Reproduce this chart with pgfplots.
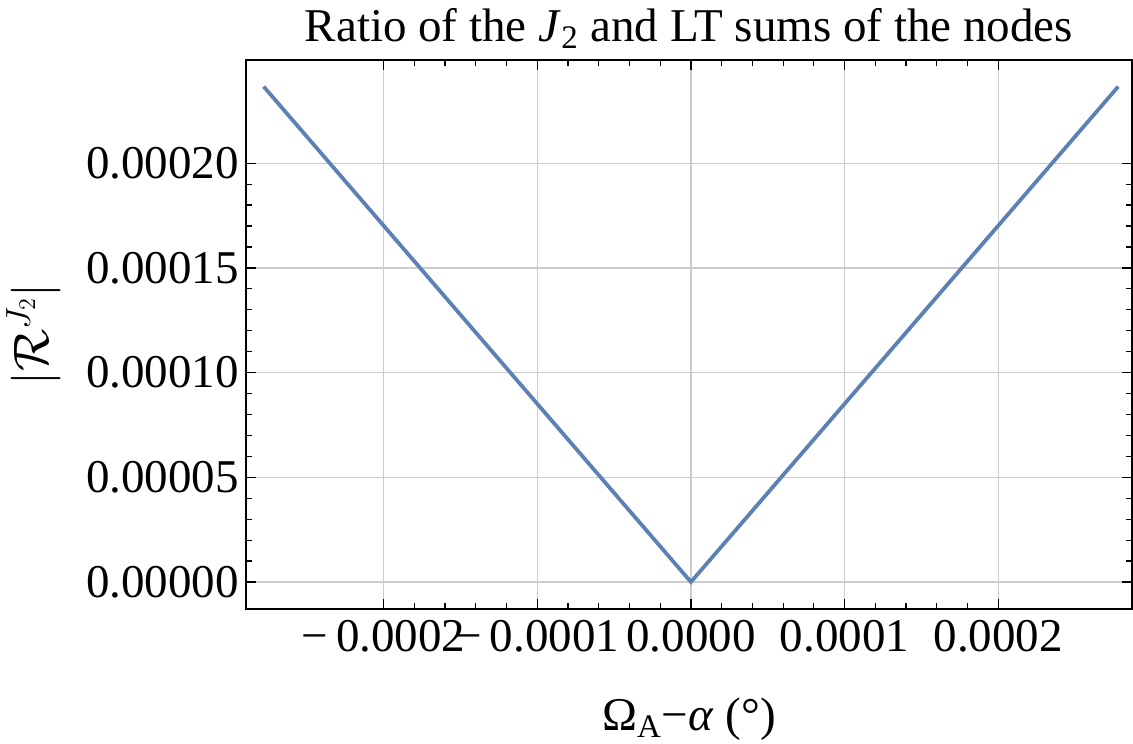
\documentclass[border=0pt]{standalone}
\usepackage{fontspec}
\setmainfont{Liberation Serif}
\usepackage{pgfplots}
\pgfplotsset{compat=1.18}
\usetikzlibrary{calc}
\definecolor{mmablue}{rgb}{0.368417,0.506779,0.709798}
\begin{document}
\begin{tikzpicture}
\begin{axis}[
 scale only axis, width=443pt, height=274.5pt,
 xmin=-0.0002895, xmax=0.000287, ymin=-0.0000129, ymax=0.0002493,
 xtick={-0.0002,-0.0001,0,0.0001,0.0002},
 xticklabels={−\,0.0002,−\,0.0001,0.0000,0.0001,0.0002},
 ytick={0,0.00005,0.0001,0.00015,0.0002},
 yticklabels={0.00000,0.00005,0.00010,0.00015,0.00020},
 minor x tick num=4, minor y tick num=4,
 tick pos=both, tick align=inside,
 major tick length=5pt, minor tick length=3pt,
 every tick/.style={black, line width=0.6pt},
 axis line style={line width=0.65pt},
 grid=major, major grid style={gray!40, line width=0.6pt},
 ticklabel style={font=\fontsize{23.5}{28}\selectfont},
 xticklabel shift=2pt,
 title={Ratio of the \textit{J}\textsubscript{2} and LT sums of the nodes},
 title style={font=\fontsize{23.5}{28}\selectfont, yshift=-4pt},
 xlabel={Ω\textsubscript{A}−\textit{α} (°)},
 ylabel={$\bigg|\mathcal{R}^{J_2}\bigg|$},
 label style={font=\fontsize{23.5}{28}\selectfont},
 xlabel shift=16pt,
 ylabel shift=6pt,
 scaled x ticks=false, scaled y ticks=false,
]
\addplot[color=mmablue, line width=1.9pt, line join=miter] coordinates {
 (-0.000278,0.0002366) (0,0) (0.000278,0.0002366)
};
\coordinate (fsw) at (rel axis cs:0,0);
\coordinate (fne) at (rel axis cs:1,1);
\end{axis}
\pgfresetboundingbox
\path ($(fsw)+(-123pt,-67pt)$) rectangle ($(fne)+(0.5pt,30pt)$);
\end{tikzpicture}
\end{document}
